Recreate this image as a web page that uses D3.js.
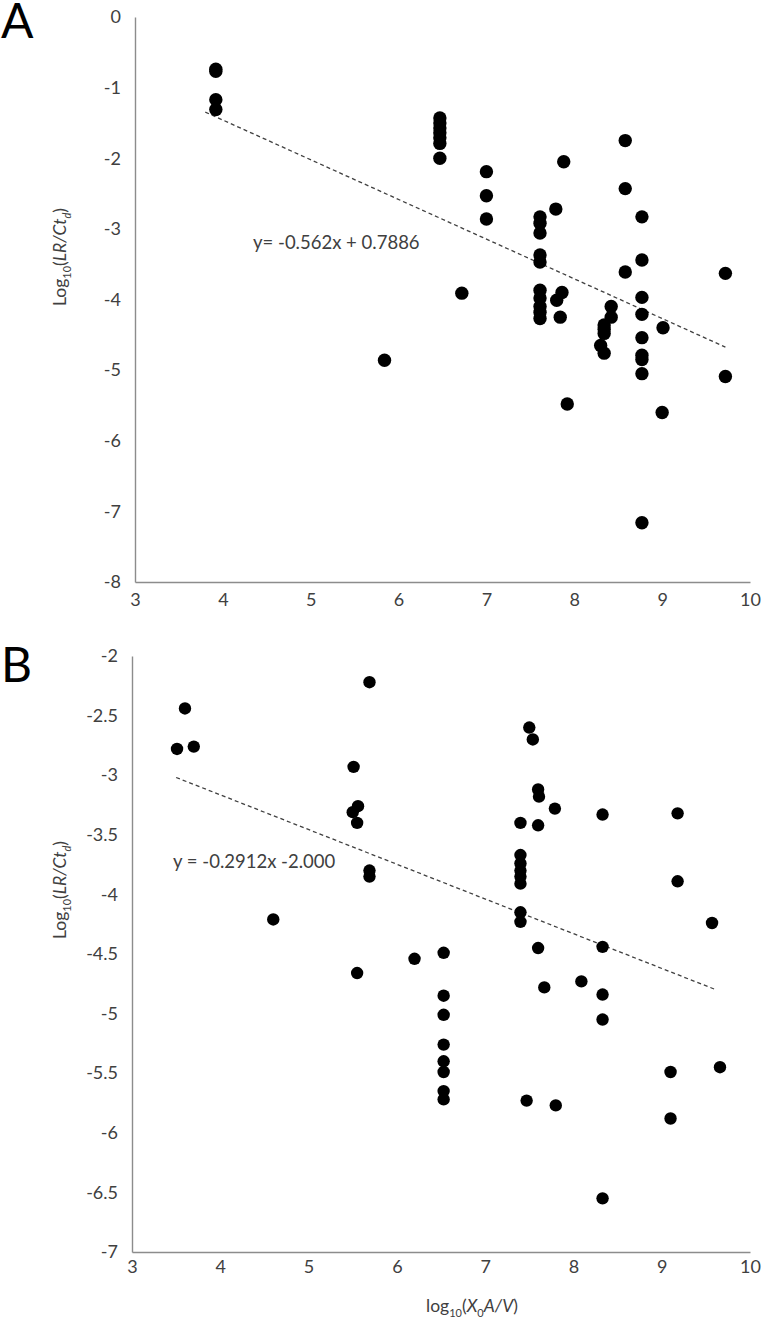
<!DOCTYPE html>
<html>
<head>
<meta charset="utf-8">
<script src="https://cdn.jsdelivr.net/npm/d3@7"></script>
<style>
  body { margin: 0; background: #fff; }
  text { font-family: Lato, "Open Sans", sans-serif; }
</style>
</head>
<body>
<svg id="fig"></svg>
<script>
/* data */
var aX = [3.92,3.92,3.92,3.92, 6.47,6.47,6.47,6.47,6.47,6.47,6.47, 7.0,7.0,7.0, 5.84, 6.72,
          7.61,7.61,7.61,7.61,7.61,7.61,7.61,7.61,7.61,7.61, 7.79, 7.8,7.86, 7.88, 7.84, 7.92,
          8.42,8.42, 8.34,8.34,8.34,8.30,8.34, 8.58,8.58,8.58,
          8.77,8.77,8.77,8.77,8.77,8.77,8.77,8.77,8.77, 9.01,9.0, 9.72,9.72];
var aY = [-0.74,-0.77,-1.17,-1.31, -1.43,-1.5,-1.57,-1.64,-1.71,-1.79,-2.0, -2.19,-2.53,-2.86, -4.86, -3.91,
          -2.83,-2.92,-3.06,-3.37,-3.47,-3.87,-3.98,-4.1,-4.18,-4.27, -2.72, -4.01,-3.9, -2.05, -4.25, -5.48,
          -4.1,-4.25, -4.36,-4.42,-4.48,-4.65,-4.76, -1.75,-2.43,-3.61,
          -2.83,-3.44,-3.97,-4.21,-4.54,-4.79,-4.85,-5.05,-7.16, -4.4,-5.6, -3.63,-5.09];

var bX = [3.51,3.60,3.70, 4.60, 5.51,5.56,5.50,5.55,5.69,5.69,5.69,5.55, 6.20,
          6.53,6.53,6.53,6.53,6.53,6.53,6.53,6.53,
          7.40,7.40,7.40,7.40,7.40,7.40,7.40,7.40, 7.47, 7.50,7.54,
          7.60,7.61,7.60,7.60, 7.67, 7.79,7.80, 8.09,
          8.33,8.33,8.33,8.33,8.33, 9.10,9.10, 9.18,9.18, 9.57,9.66];
var bY = [-2.78,-2.44,-2.76, -4.21, -2.93,-3.26,-3.31,-3.40,-2.22,-3.80,-3.85,-4.66, -4.54,
          -4.49,-4.85,-5.01,-5.26,-5.40,-5.49,-5.65,-5.72,
          -3.40,-3.67,-3.74,-3.80,-3.85,-3.91,-4.15,-4.23, -5.73, -2.60,-2.70,
          -3.12,-3.18,-3.42,-4.45, -4.78, -3.28,-5.77, -4.73,
          -3.33,-4.44,-4.84,-5.05,-6.55, -5.49,-5.88, -3.32,-3.89, -4.24,-5.45];

// trend lines (slope, intercept, x range)
var fitA = [-0.562, 0.7886], rangeA = [3.8, 9.72];
var fitB = [-0.2912, -2.000], rangeB = [3.5, 9.6];

var ticksX = [3,4,5,6,7,8,9,10];
var ticksYA = [0,-1,-2,-3,-4,-5,-6,-7,-8];
var ticksYB = [-2,-2.5,-3,-3.5,-4,-4.5,-5,-5.5,-6,-6.5,-7];

var svg = d3.select("#fig")
    .attr("width", 766)
    .attr("height", 1320);

function panel(opt) {
  var x = d3.scaleLinear().domain([3, 10]).range([opt.left, 750]);
  var y = d3.scaleLinear().domain(opt.yDomain).range([opt.top, opt.bottom]);

  var g = svg.append("g");

  var yaxis = g.append("g")
      .attr("transform", "translate(" + opt.left + ",0)")
      .call(d3.axisLeft(y).tickValues(opt.yTicks).tickSize(0).tickSizeOuter(0).tickPadding(14)
            .tickFormat(function(d) { return d3.format("")(d); }));
  var xaxis = g.append("g")
      .attr("transform", "translate(0," + opt.bottom + ")")
      .call(d3.axisBottom(x).tickValues(ticksX).tickSize(0).tickSizeOuter(0).tickPadding(opt.xPad));

  g.selectAll(".domain").attr("stroke", "#8c8c8c").attr("stroke-width", 1.4);
  g.selectAll(".tick text")
      .attr("font-family", "Lato, sans-serif")
      .attr("font-size", 18)
      .attr("fill", "#404040")
      .text(function(d) { return String(d); });

  // trend line
  var line = d3.line().x(function(d) { return x(d); }).y(function(d) { return y(opt.fit[0] * d + opt.fit[1]); });
  g.append("path")
      .datum(opt.range)
      .attr("d", line)
      .attr("fill", "none")
      .attr("stroke", "#404040")
      .attr("stroke-width", 1.3)
      .attr("stroke-dasharray", "4,3");

  g.selectAll(".dot")
    .data(opt.xs)
    .enter().append("circle")
      .attr("class", "dot")
      .attr("cx", function(d) { return x(d); })
      .attr("cy", function(d, i) { return y(opt.ys[i]); })
      .attr("r", opt.r)
      .attr("fill", "#000");

  g.append("text")
      .attr("x", opt.eqX).attr("y", opt.eqY)
      .attr("font-size", 18.5)
      .attr("fill", "#404040")
      .text(opt.eq);

  // y axis label
  var yl = g.append("text")
      .attr("transform", "translate(" + 66 + "," + opt.ylabY + ") rotate(-90)")
      .attr("text-anchor", "middle")
      .attr("font-size", 17.5)
      .attr("fill", "#404040");
  yl.append("tspan").text("Log");
  yl.append("tspan").attr("font-size", 11).attr("dy", 5).text("10");
  yl.append("tspan").attr("dy", -5).text("(");
  yl.append("tspan").attr("font-style", "italic").text("LR/Ct");
  yl.append("tspan").attr("font-size", 11).attr("font-style", "italic").attr("dy", 5).text("d");
  yl.append("tspan").attr("dy", -5).text(")");

  g.append("text")
      .attr("x", 1).attr("y", opt.letterY)
      .attr("font-size", 48)
      .attr("font-family", "Lato, sans-serif")
      .attr("fill", "#000")
      .text(opt.letter);

  return { x: x, y: y };
}

panel({ letter: "A", letterY: 38, left: 135, top: 17, bottom: 582, yDomain: [0, -8], yTicks: ticksYA,
        xs: aX, ys: aY, fit: fitA, range: rangeA, r: 6.7, xPad: 11,
        eq: "y= -0.562x + 0.7886", eqX: 253, eqY: 249, ylabY: 257 });

panel({ letter: "B", letterY: 682, left: 132, top: 656, bottom: 1252, yDomain: [-2, -7], yTicks: ticksYB,
        xs: bX, ys: bY, fit: fitB, range: rangeB, r: 6.2, xPad: 8,
        eq: "y = -0.2912x -2.000", eqX: 173, eqY: 868, ylabY: 890 });

// x axis label
var xl = svg.append("text")
    .attr("x", 472).attr("y", 1312)
    .attr("text-anchor", "middle")
    .attr("font-size", 17.5)
    .attr("fill", "#404040");
xl.append("tspan").text("log");
xl.append("tspan").attr("font-size", 11).attr("dy", 5).text("10");
xl.append("tspan").attr("dy", -5).text("(");
xl.append("tspan").attr("font-style", "italic").text("X");
xl.append("tspan").attr("font-size", 11).attr("dy", 5).text("0");
xl.append("tspan").attr("font-style", "italic").attr("dy", -5).text("A/V");
xl.append("tspan").text(")");
</script>
</body>
</html>
